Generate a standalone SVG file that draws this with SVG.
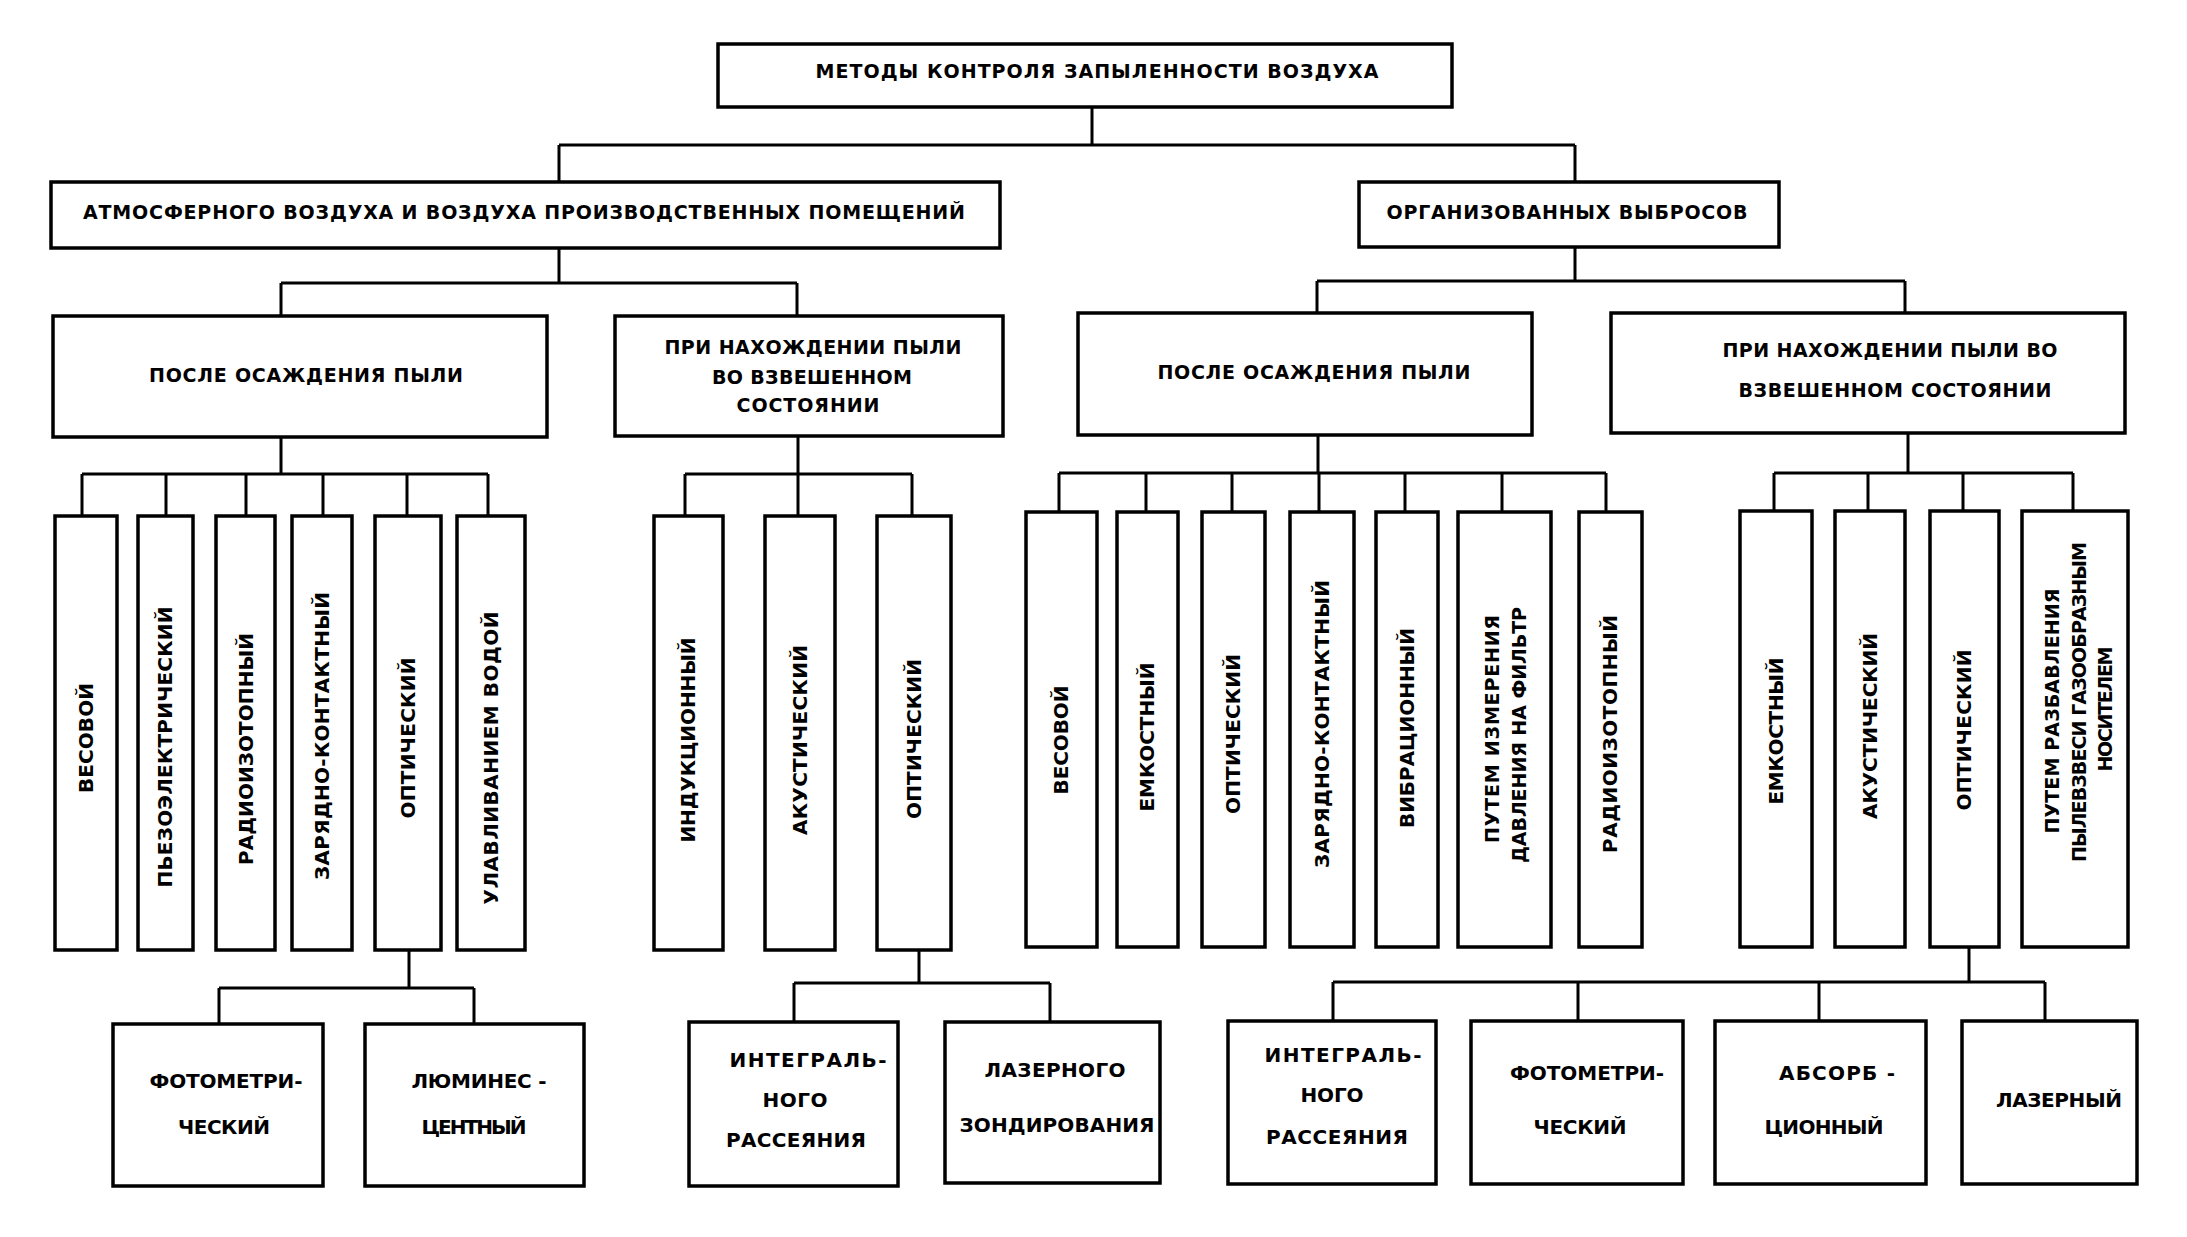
<svg xmlns="http://www.w3.org/2000/svg" width="2187" height="1237" viewBox="0 0 2187 1237">
<style>
.bg{fill:#fff}
.box{fill:#fff;stroke:#000;stroke-width:3.5}
.c{fill:none;stroke:#000;stroke-width:3}
.t{font-family:"DejaVu Sans","Liberation Sans",sans-serif;font-weight:bold;font-size:19px;text-anchor:middle;fill:#000}
.v{font-size:20px}
.v2{font-size:19px}
.b{font-size:20px}
</style>
<rect class="bg" x="0" y="0" width="2187" height="1237"/>
<g id="connectors">
<path class="c" d="M1092,107V145M559,145H1575M559,145V182M1575,145V182"/>
<path class="c" d="M559,248V283M281,283H797M281,283V316M797,283V316"/>
<path class="c" d="M1575,247V281M1317,281H1905M1317,281V313M1905,281V313"/>
<path class="c" d="M281,437V474M82,474H488M82,474V516M166,474V516M246,474V516M323,474V516M407,474V516M488,474V516"/>
<path class="c" d="M798,436V474M685,474H912M685,474V516M798,474V516M912,474V516"/>
<path class="c" d="M1318,435V473M1059,473H1606M1059,473V512M1146,473V512M1232,473V512M1319,473V512M1405,473V512M1502,473V512M1606,473V512"/>
<path class="c" d="M1908,433V473M1774,473H2073M1774,473V511M1868,473V511M1963,473V511M2073,473V511"/>
<path class="c" d="M409,950V988M219,988H474M219,988V1024M474,988V1024"/>
<path class="c" d="M919,950V983M794,983H1050M794,983V1022M1050,983V1022"/>
<path class="c" d="M1969,947V982M1333,982H2045M1333,982V1021M1578,982V1021M1819,982V1021M2045,982V1021"/>
</g>
<g id="n-root"><rect class="box" x="718" y="44" width="734" height="63"/><text class="t" x="1097" y="78" textLength="563">МЕТОДЫ КОНТРОЛЯ ЗАПЫЛЕННОСТИ ВОЗДУХА</text></g>
<g id="n-atm"><rect class="box" x="51" y="182" width="949" height="66"/><text class="t" x="524" y="219" textLength="882">АТМОСФЕРНОГО ВОЗДУХА И ВОЗДУХА ПРОИЗВОДСТВЕННЫХ ПОМЕЩЕНИЙ</text></g>
<g id="n-org"><rect class="box" x="1359" y="182" width="420" height="65"/><text class="t" x="1567" y="219" textLength="361">ОРГАНИЗОВАННЫХ ВЫБРОСОВ</text></g>
<g id="n-a1"><rect class="box" x="53" y="316" width="494" height="121"/><text class="t" x="306" y="382" textLength="314">ПОСЛЕ ОСАЖДЕНИЯ ПЫЛИ</text></g>
<g id="n-a2"><rect class="box" x="615" y="316" width="388" height="120"/><text class="t" x="813" y="354" textLength="297">ПРИ НАХОЖДЕНИИ ПЫЛИ</text><text class="t" x="812" y="384" textLength="200">ВО ВЗВЕШЕННОМ</text><text class="t" x="808" y="412" textLength="143">СОСТОЯНИИ</text></g>
<g id="n-b1"><rect class="box" x="1078" y="313" width="454" height="122"/><text class="t" x="1314" y="379" textLength="313">ПОСЛЕ ОСАЖДЕНИЯ ПЫЛИ</text></g>
<g id="n-b2"><rect class="box" x="1611" y="313" width="514" height="120"/><text class="t" x="1890" y="357" textLength="335">ПРИ НАХОЖДЕНИИ ПЫЛИ ВО</text><text class="t" x="1895" y="397" textLength="313">ВЗВЕШЕННОМ СОСТОЯНИИ</text></g>

<g id="n-a1-1"><rect class="box" x="55" y="516" width="62" height="434"/><text class="t v" x="86" y="738" dy="7" transform="rotate(-90 86 738)" textLength="110">ВЕСОВОЙ</text></g>
<g id="n-a1-2"><rect class="box" x="138" y="516" width="55" height="434"/><text class="t v" x="165" y="747" dy="7" transform="rotate(-90 165 747)" textLength="281">ПЬЕЗОЭЛЕКТРИЧЕСКИЙ</text></g>
<g id="n-a1-3"><rect class="box" x="216" y="516" width="59" height="434"/><text class="t v" x="246" y="749" dy="7" transform="rotate(-90 246 749)" textLength="232">РАДИОИЗОТОПНЫЙ</text></g>
<g id="n-a1-4"><rect class="box" x="292" y="516" width="60" height="434"/><text class="t v" x="322" y="736" dy="7" transform="rotate(-90 322 736)" textLength="288">ЗАРЯДНО-КОНТАКТНЫЙ</text></g>
<g id="n-a1-5"><rect class="box" x="375" y="516" width="66" height="434"/><text class="t v" x="408" y="738" dy="7" transform="rotate(-90 408 738)" textLength="161">ОПТИЧЕСКИЙ</text></g>
<g id="n-a1-6"><rect class="box" x="457" y="516" width="68" height="434"/><text class="t v" x="491" y="758" dy="7" transform="rotate(-90 491 758)" textLength="293">УЛАВЛИВАНИЕМ ВОДОЙ</text></g>

<g id="n-a2-1"><rect class="box" x="654" y="516" width="69" height="434"/><text class="t v" x="688" y="740" dy="7" transform="rotate(-90 688 740)" textLength="205">ИНДУКЦИОННЫЙ</text></g>
<g id="n-a2-2"><rect class="box" x="765" y="516" width="70" height="434"/><text class="t v" x="800" y="740" dy="7" transform="rotate(-90 800 740)" textLength="190">АКУСТИЧЕСКИЙ</text></g>
<g id="n-a2-3"><rect class="box" x="877" y="516" width="74" height="434"/><text class="t v" x="914" y="739" dy="7" transform="rotate(-90 914 739)" textLength="160">ОПТИЧЕСКИЙ</text></g>

<g id="n-b1-1"><rect class="box" x="1026" y="512" width="71" height="435"/><text class="t v" x="1061" y="740" dy="7" transform="rotate(-90 1061 740)" textLength="109">ВЕСОВОЙ</text></g>
<g id="n-b1-2"><rect class="box" x="1117" y="512" width="61" height="435"/><text class="t v" x="1147" y="737" dy="7" transform="rotate(-90 1147 737)" textLength="149">ЕМКОСТНЫЙ</text></g>
<g id="n-b1-3"><rect class="box" x="1202" y="512" width="63" height="435"/><text class="t v" x="1233" y="734" dy="7" transform="rotate(-90 1233 734)" textLength="160">ОПТИЧЕСКИЙ</text></g>
<g id="n-b1-4"><rect class="box" x="1290" y="512" width="64" height="435"/><text class="t v" x="1322" y="724" dy="7" transform="rotate(-90 1322 724)" textLength="288">ЗАРЯДНО-КОНТАКТНЫЙ</text></g>
<g id="n-b1-5"><rect class="box" x="1376" y="512" width="62" height="435"/><text class="t v" x="1407" y="728" dy="7" transform="rotate(-90 1407 728)" textLength="200">ВИБРАЦИОННЫЙ</text></g>
<g id="n-b1-6"><rect class="box" x="1458" y="512" width="93" height="435"/><text class="t v2" x="1492" y="729" dy="7" transform="rotate(-90 1492 729)" textLength="228">ПУТЕМ ИЗМЕРЕНИЯ</text><text class="t v2" x="1519" y="735" dy="7" transform="rotate(-90 1519 735)" textLength="256">ДАВЛЕНИЯ НА ФИЛЬТР</text></g>
<g id="n-b1-7"><rect class="box" x="1579" y="512" width="63" height="435"/><text class="t v" x="1610" y="734" dy="7" transform="rotate(-90 1610 734)" textLength="238">РАДИОИЗОТОПНЫЙ</text></g>

<g id="n-b2-1"><rect class="box" x="1740" y="511" width="72" height="436"/><text class="t v" x="1776" y="731" dy="7" transform="rotate(-90 1776 731)" textLength="147">ЕМКОСТНЫЙ</text></g>
<g id="n-b2-2"><rect class="box" x="1835" y="511" width="70" height="436"/><text class="t v" x="1870" y="726" dy="7" transform="rotate(-90 1870 726)" textLength="186">АКУСТИЧЕСКИЙ</text></g>
<g id="n-b2-3"><rect class="box" x="1930" y="511" width="69" height="436"/><text class="t v" x="1964" y="730" dy="7" transform="rotate(-90 1964 730)" textLength="161">ОПТИЧЕСКИЙ</text></g>
<g id="n-b2-4"><rect class="box" x="2022" y="511" width="106" height="436"/><text class="t v2" x="2052" y="711" dy="7" transform="rotate(-90 2052 711)" textLength="245">ПУТЕМ РАЗБАВЛЕНИЯ</text><text class="t v2" x="2079" y="702" dy="7" transform="rotate(-90 2079 702)" textLength="320">ПЫЛЕВЗВЕСИ ГАЗООБРАЗНЫМ</text><text class="t v2" x="2105" y="709" dy="7" transform="rotate(-90 2105 709)" textLength="125">НОСИТЕЛЕМ</text></g>

<g id="n-c1"><rect class="box" x="113" y="1024" width="210" height="162"/><text class="t b" x="226" y="1088" textLength="153">ФОТОМЕТРИ-</text><text class="t b" x="224" y="1134" textLength="92">ЧЕСКИЙ</text></g>
<g id="n-c2"><rect class="box" x="365" y="1024" width="219" height="162"/><text class="t b" x="479" y="1088" textLength="135">ЛЮМИНЕС -</text><text class="t b" x="474" y="1134" textLength="105">ЦЕНТНЫЙ</text></g>
<g id="n-c3"><rect class="box" x="689" y="1022" width="209" height="164"/><text class="t b" x="808" y="1067" textLength="157">ИНТЕГРАЛЬ-</text><text class="t b" x="795" y="1107" textLength="65">НОГО</text><text class="t b" x="796" y="1147" textLength="140">РАССЕЯНИЯ</text></g>
<g id="n-c4"><rect class="box" x="945" y="1022" width="215" height="161"/><text class="t b" x="1055" y="1077" textLength="141">ЛАЗЕРНОГО</text><text class="t b" x="1057" y="1132" textLength="195">ЗОНДИРОВАНИЯ</text></g>
<g id="n-c5"><rect class="box" x="1228" y="1021" width="208" height="163"/><text class="t b" x="1343" y="1062" textLength="157">ИНТЕГРАЛЬ-</text><text class="t b" x="1332" y="1102" textLength="63">НОГО</text><text class="t b" x="1337" y="1144" textLength="142">РАССЕЯНИЯ</text></g>
<g id="n-c6"><rect class="box" x="1471" y="1021" width="212" height="163"/><text class="t b" x="1587" y="1080" textLength="154">ФОТОМЕТРИ-</text><text class="t b" x="1580" y="1134" textLength="93">ЧЕСКИЙ</text></g>
<g id="n-c7"><rect class="box" x="1715" y="1021" width="211" height="163"/><text class="t b" x="1837" y="1080" textLength="116">АБСОРБ -</text><text class="t b" x="1824" y="1134" textLength="119">ЦИОННЫЙ</text></g>
<g id="n-c8"><rect class="box" x="1962" y="1021" width="175" height="163"/><text class="t b" x="2059" y="1107" textLength="126">ЛАЗЕРНЫЙ</text></g>
</svg>
